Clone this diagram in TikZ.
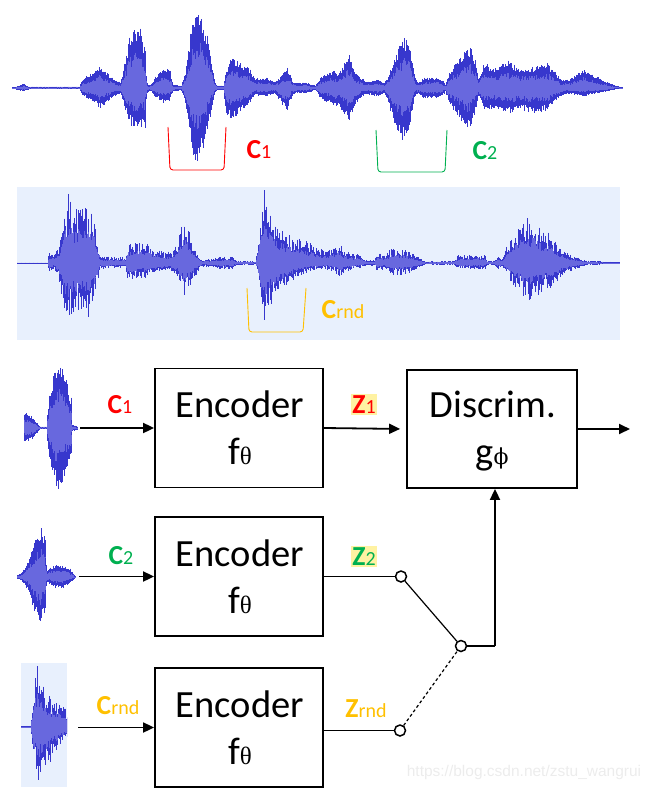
\documentclass[tikz,border=0pt]{standalone}
\usepackage{fontspec}
\setmainfont{Carlito}
\newfontfamily\grk{Liberation Serif}
\newfontfamily\grkb{DejaVu Serif}
\newfontfamily\wmfont{Liberation Sans}
\usetikzlibrary{arrows.meta,calc}
\definecolor{wdk}{RGB}{55,55,205}
\definecolor{wlt}{RGB}{104,104,222}
\definecolor{cred}{RGB}{255,0,0}
\definecolor{cgreen}{RGB}{0,176,80}
\definecolor{cgold}{RGB}{255,192,0}
\definecolor{bandc}{RGB}{232,240,253}
\definecolor{hlc}{RGB}{255,242,162}
\definecolor{wmc}{RGB}{236,236,236}
\newcommand\lbl[3]{\textcolor{#1}{\fontsize{27.5}{28}\selectfont\bfseries #2\fontsize{20}{20}\selectfont\mdseries #3}}
% #1 centre y, #2 min random fraction, #3 list
\newcommand\wavedraw[3]{%
  \begin{scope}[shift={(0,#1)}]
  \pgfmathsetmacro\wfr{1-#2}%
  \foreach \xb/\ub/\lb [remember=\xb as \xa (initially -1), remember=\ub as \ua (initially 0), remember=\lb as \la (initially 0)] in {#3} {%
    \ifdim\xa pt<0pt\relax\else
      \pgfmathsetmacro\wxn{\xa+0.8}%
      \foreach \x in {\xa,\wxn,...,\xb} {%
        \pgfmathsetmacro\wvU{\ua+(\ub-\ua)*(\x-\xa)/(\xb-\xa)}%
        \pgfmathsetmacro\wvL{\la+(\lb-\la)*(\x-\xa)/(\xb-\xa)}%
        \pgfmathsetmacro\wa{\wvU*(#2+\wfr*rnd)+0.5}%
        \pgfmathsetmacro\wb{\wvL*(#2+\wfr*rnd)+0.5}%
        \pgfmathsetmacro\wc{\wvU*(0.35+0.25*rnd)}%
        \pgfmathsetmacro\wd{\wvL*(0.35+0.25*rnd)}%
        \draw[wdk,line width=1pt] (\x,-\wa) -- (\x,\wb);
        \draw[wlt,line width=1pt] (\x,-\wc) -- (\x,\wd);
      }%
    \fi
  }%
  \end{scope}}
\begin{document}
\begin{tikzpicture}[x=1pt,y=-1pt,
  box/.style={draw,line width=1.8pt,minimum width=168pt,minimum height=119pt,inner sep=0pt},
  dbox/.style={draw,line width=1.8pt,minimum width=170pt,minimum height=118pt,inner sep=0pt},
  arr/.style={line width=1.8pt,-{Triangle[length=11pt,width=10pt]}},
  thinln/.style={line width=1.2pt},
  sw/.style={circle,draw,line width=1.5pt,fill=white,minimum size=11pt,inner sep=0pt},
  bigtxt/.style={font=\fontsize{38.5}{40}\selectfont,inner sep=0pt,anchor=base},
  lab/.style={inner sep=0pt,anchor=base},
  hl/.style={fill=hlc,inner xsep=1.5pt,inner ysep=0pt,text height=19.5pt,text depth=2pt,anchor=base},
  brk/.style={line width=0.9pt,rounded corners=3pt}]
\useasboundingbox (0,0) rectangle (652,790);
\pgfmathsetseed{7}
% ---------- top waveform
\wavedraw{88}{0.72}{12/0/0, 20/2/2, 24/4/3, 28/1/1, 80/1/1, 82/8/6, 90/14/12, 100/22/20, 108/14/14, 115/8/8, 121/6/6, 124/20/18, 129/50/35, 134/65/40, 140/60/38, 145/40/40, 147/5/5, 150/2/2, 155/10/8, 163/20/15, 170/18/12, 173/3/3, 182/2/2, 186/20/20, 193/70/70, 197/81/75, 203/70/60, 210/40/30, 214/10/8, 217/2/2, 224/2/2, 226/18/25, 232/32/32, 240/25/25, 250/20/15, 255/8/5, 258/10/8, 266/10/8, 275/6/5, 278/8/10, 287/20/23, 292/8/8, 295/5/5, 305/5/5, 312/3/3, 316/2/2, 320/10/10, 330/17/15, 340/15/20, 349/37/32, 355/15/18, 364/8/6, 368/6/6, 378/8/8, 385/5/5, 390/15/20, 398/40/45, 404/52/53, 410/45/40, 414/15/10, 418/5/5, 424/10/10, 440/10/10, 446/3/3, 449/15/15, 460/30/30, 466/40/40, 471/40/38, 476/25/20, 479/8/8, 484/25/22, 495/20/20, 508/27/25, 520/20/22, 535/22/25, 548/25/22, 561/8/8, 570/8/6, 584/20/8, 592/14/6, 603/8/4, 615/2/1, 623/0/0}
\draw[cred,brk] (168,127) -- (170,170) -- (224,170) -- (226,127);
\draw[cgreen,brk] (376,130) -- (378,172) -- (445,172) -- (447,130);
\node[lab] (c1top) at (259,158) {\lbl{cred}{C}{1}};
\node[lab] (c2top) at (485,159) {\lbl{cgreen}{C}{2}};
% ---------- band
\fill[bandc] (17,187) rectangle (620,340);
\wavedraw{263}{0.4}{17/0/0, 48/0/0, 49/10/8, 55/8/5, 60/20/20, 64/50/50, 69/76/58, 74/55/50, 80/60/45, 88/55/55, 95/45/40, 99/15/10, 100/6/6, 110/6/5, 126/5/4, 128/18/20, 136/22/15, 145/20/15, 155/15/10, 165/10/8, 175/15/10, 180/30/20, 184/47/33, 190/30/25, 197/10/10, 201/3/3, 215/4/4, 220/6/6, 232/6/6, 236/2/2, 256/1/1, 258/20/10, 262/60/50, 264/77/60, 268/55/50, 275/40/35, 285/30/25, 295/25/15, 310/20/8, 325/12/6, 335/15/8, 339/20/15, 345/12/8, 360/8/5, 366/3/3, 375/2/2, 377/10/8, 385/8/6, 393/15/12, 405/14/12, 418/6/5, 425/1/1, 455/2/2, 458/8/5, 470/8/6, 485/8/6, 487/2/2, 495/2/2, 498/6/6, 503/3/3, 506/15/10, 515/30/25, 525/45/35, 531/45/37, 540/35/30, 550/30/25, 560/15/15, 570/8/8, 586/2/2, 620/0/0}
\draw[cgold,brk] (247,288) -- (249,332) -- (303,332) -- (306,288);
\node[lab] (crtop) at (343,318) {\lbl{cgold}{C}{rnd}};
% ---------- small waveforms
\wavedraw{428}{0.72}{24/14/12, 28/15/14, 33/10/10, 38/3/3, 40/1/1, 47/1/1, 49/30/30, 54/55/50, 58/68/64, 62/60/55, 67/45/40, 71/30/30, 72/3/3, 78/1/1}
\wavedraw{577}{0.72}{17/1/1, 22/4/4, 28/15/12, 33/30/30, 37/45/40, 41/49/48, 45/40/35, 47/5/5, 49/8/6, 55/12/10, 62/12/12, 70/8/6, 74/2/2, 76/0/0}
\fill[bandc] (21,663) rectangle (67,787);
\begin{scope}
\clip (21,663) rectangle (67,787);
\wavedraw{727}{0.4}{21/0/0, 31/1/1, 33/30/25, 37/64/58, 40/50/50, 45/35/40, 50/30/35, 55/25/25, 60/22/18, 65/18/12, 68/15/10}
\end{scope}
% ---------- boxes
\node[box] (enc1) at (239,428) {};
\node[box] (enc2) at (239,576.5) {};
\node[box] (enc3) at (239,727.5) {};
\node[dbox] (disc) at (492,429) {};
\node[bigtxt] (e1a) at (240,417) {Encoder};
\node[bigtxt] (e1b) at (240,464) {f{\grk\fontsize{25}{25}\selectfont θ}};
\node[bigtxt] (e2a) at (240,566) {Encoder};
\node[bigtxt] (e2b) at (240,613) {f{\grk\fontsize{25}{25}\selectfont θ}};
\node[bigtxt] (e3a) at (240,717) {Encoder};
\node[bigtxt] (e3b) at (240,764) {f{\grk\fontsize{25}{25}\selectfont θ}};
\node[bigtxt] (d1a) at (493,417) {Discrim.};
\node[bigtxt] (d1b) at (492,464) {g{\grkb\fontsize{22}{22}\selectfont ϕ}};
% ---------- input arrows
\coordinate (a1) at (80,428);
\coordinate (a2) at (79,576.5);
\coordinate (a3) at (78,727.5);
\draw[arr] (a1) -- (enc1.west);
\draw[arr] (a2) -- (enc2.west);
\draw[arr] (a3) -- (enc3.west);
\node[lab] (c1l) at (120,413) {\lbl{cred}{C}{1}};
\node[lab] (c2l) at (121,564) {\lbl{cgreen}{C}{2}};
\node[lab] (crl) at (118,714) {\lbl{cgold}{C}{rnd}};
% ---------- z outputs
\draw[arr,shorten >=6pt] (enc1.east) -- (disc.west);
\node[hl] (z1l) at (364,413) {\lbl{cred}{Z}{1}};
\node[hl] (z2l) at (364,565) {\lbl{cgreen}{Z}{2}};
\node[lab] (zrl) at (366,717) {\lbl{cgold}{Z}{rnd}};
\node[sw] (s1) at (401,576.5) {};
\node[sw] (s3) at (400,730.5) {};
\node[sw] (piv) at (461,646) {};
\draw[thinln] (enc2.east) -- (s1);
\draw[thinln] (s3 -| enc3.east) -- (s3);
\draw[thinln] (s1) -- (piv);
\draw[thinln,dashed,dash pattern=on 3pt off 2.5pt] (s3) -- (piv);
\coordinate (corner) at (495,646);
\draw[thinln] (piv) -- (corner);
\draw[arr] (corner) -- (corner |- disc.south);
\coordinate (out) at (630,429);
\draw[arr] (disc.east) -- (out);
% ---------- watermark
\node[lab,text=wmc,font=\wmfont\fontsize{15.5}{16}\selectfont] (wm) at (524,776) {https://blog.csdn.net/zstu\_wangrui};
\end{tikzpicture}
\end{document}
